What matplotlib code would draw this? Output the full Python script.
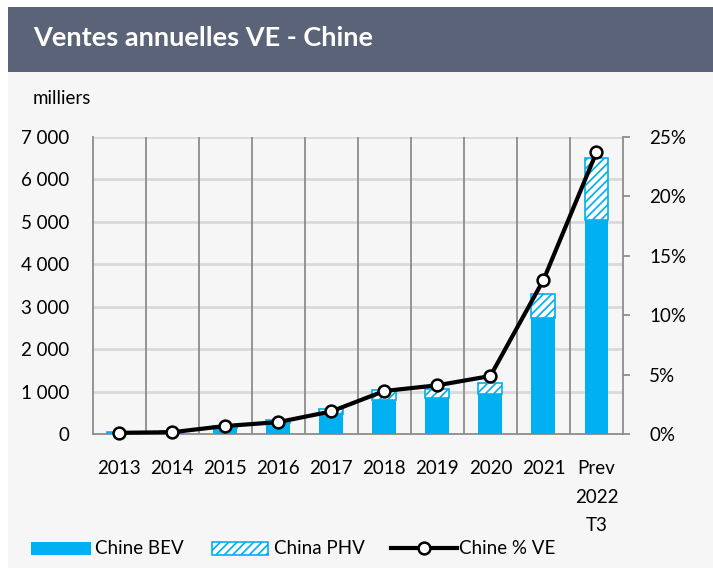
import matplotlib
matplotlib.use("Agg")
import matplotlib.pyplot as plt
from matplotlib.patches import Rectangle
from matplotlib.lines import Line2D
import numpy as np

categories = ["2013", "2014", "2015", "2016", "2017", "2018", "2019", "2020", "2021", "Prev\n2022\nT3"]
bev = [30, 45, 140, 260, 480, 790, 850, 950, 2730, 5040]
phv = [10, 30, 50, 70, 100, 240, 210, 250, 570, 1460]
pct_ve = [0.1, 0.15, 0.67, 1.0, 1.9, 3.62, 4.1, 4.88, 12.96, 23.71]
left_ticks = [0, 1000, 2000, 3000, 4000, 5000, 6000, 7000]
left_labels = ["0", "1 000", "2 000", "3 000", "4 000", "5 000", "6 000", "7 000"]
right_ticks = [0, 5, 10, 15, 20, 25]
right_labels = ["0%", "5%", "10%", "15%", "20%", "25%"]

BLUE = "#00b0f0"
HEADER = "#5b6378"
CARD = "#f6f6f6"
FONT = "Lato"
FS = 13.5

plt.rcParams['font.family'] = [FONT, 'DejaVu Sans']
plt.rcParams['hatch.linewidth'] = 3.0

W, H = 713, 571
fig = plt.figure(figsize=(W / 100, H / 100), dpi=100)
fig.patch.set_facecolor("white")

def fx(px):
    return px / W

def fy(py):
    return 1 - py / H

# card and header
fig.patches.append(Rectangle((fx(8), fy(568)), fx(713) - fx(8), fy(7) - fy(568),
                             transform=fig.transFigure, facecolor=CARD, edgecolor="none", zorder=-2))
fig.patches.append(Rectangle((fx(8), fy(72)), fx(713) - fx(8), fy(7) - fy(72),
                             transform=fig.transFigure, facecolor=HEADER, edgecolor="none", zorder=-1))
fig.text(fx(33), fy(38), "Ventes annuelles VE - Chine", color="white", fontsize=19.5,
         fontweight="bold", va="center", ha="left")
fig.text(fx(33), fy(99), "milliers", color="black", fontsize=FS, va="center", ha="left")

ax = fig.add_axes([fx(92.5), fy(434), fx(623) - fx(92.5), fy(137) - fy(434)])
ax.set_zorder(2)
ax.set_facecolor("none")
x = np.arange(len(categories))
bw = 0.45
ax.bar(x, bev, width=bw, color=BLUE, edgecolor="none", zorder=3)
ax.bar(x, phv, bottom=bev, width=bw, color=BLUE, edgecolor="white", hatch="////",
       linewidth=0, zorder=3)
ax.bar(x, phv, bottom=bev, width=bw, fill=False, edgecolor=BLUE, linewidth=1.2, zorder=3)

ax.set_xlim(-0.5, len(categories) - 0.5)
ax.set_ylim(0, 7000)
ax.set_yticks(left_ticks)
ax.set_yticklabels(left_labels, fontsize=FS)
ax.set_xticks(x)
ax.set_xticklabels(categories, fontsize=FS, linespacing=1.8, va="top")
ax.tick_params(axis="y", length=0, pad=17)
ax.tick_params(axis="x", length=0, pad=19)
for v in left_ticks[1:]:
    ax.axhline(v, color="#d9d9d9", linewidth=2, zorder=1)
for b in np.arange(0.5, len(categories) - 1, 1.0):
    ax.axvline(b, color="#8c8c8c", linewidth=1.3, zorder=2)
for s in ["top", "right"]:
    ax.spines[s].set_visible(False)
ax.spines["left"].set_color("#8c8c8c")
ax.spines["left"].set_linewidth(1.3)
ax.spines["bottom"].set_color("#8c8c8c")
ax.spines["bottom"].set_linewidth(1.3)

ax2 = ax.twinx()
ax2.set_zorder(3)
ax2.set_facecolor("none")
ax2.set_ylim(0, 25)
ax2.set_yticks(right_ticks)
ax2.set_yticklabels(right_labels, fontsize=FS)
ax2.tick_params(axis="y", length=5, width=1.3, color="#8c8c8c", pad=14)
for s in ["top", "left", "bottom"]:
    ax2.spines[s].set_visible(False)
ax2.spines["right"].set_color("#8c8c8c")
ax2.spines["right"].set_linewidth(1.3)
ax2.plot(x, pct_ve, color="black", linewidth=3, marker="o", markersize=8.5,
         markerfacecolor="white", markeredgecolor="black", markeredgewidth=1.8, zorder=5,
         clip_on=False)

# legend (manual)
ly = 548
fig.patches.append(Rectangle((fx(31), fy(ly + 6.5)), fx(91) - fx(31), fy(ly - 6.5) - fy(ly + 6.5),
                             transform=fig.transFigure, facecolor=BLUE, edgecolor="none"))
fig.text(fx(95), fy(ly), "Chine BEV", fontsize=FS, va="center", ha="left")
fig.patches.append(Rectangle((fx(212), fy(ly + 6.5)), fx(268) - fx(212), fy(ly - 6.5) - fy(ly + 6.5),
                             transform=fig.transFigure, facecolor=BLUE, edgecolor="white",
                             hatch="////", linewidth=0))
fig.patches.append(Rectangle((fx(212), fy(ly + 6.5)), fx(268) - fx(212), fy(ly - 6.5) - fy(ly + 6.5),
                             transform=fig.transFigure, fill=False, edgecolor=BLUE, linewidth=1.2))
fig.text(fx(274), fy(ly), "China PHV", fontsize=FS, va="center", ha="left")
fig.lines.append(Line2D([fx(391), fx(457)], [fy(ly), fy(ly)], transform=fig.transFigure,
                        color="black", linewidth=3))
fig.lines.append(Line2D([fx(424)], [fy(ly)], transform=fig.transFigure, marker="o",
                        markersize=8.5, markerfacecolor="white", markeredgecolor="black",
                        markeredgewidth=1.8, linestyle="none"))
fig.text(fx(459), fy(ly), "Chine % VE", fontsize=FS, va="center", ha="left")

fig.savefig("out.png", dpi=100, facecolor=fig.get_facecolor())
